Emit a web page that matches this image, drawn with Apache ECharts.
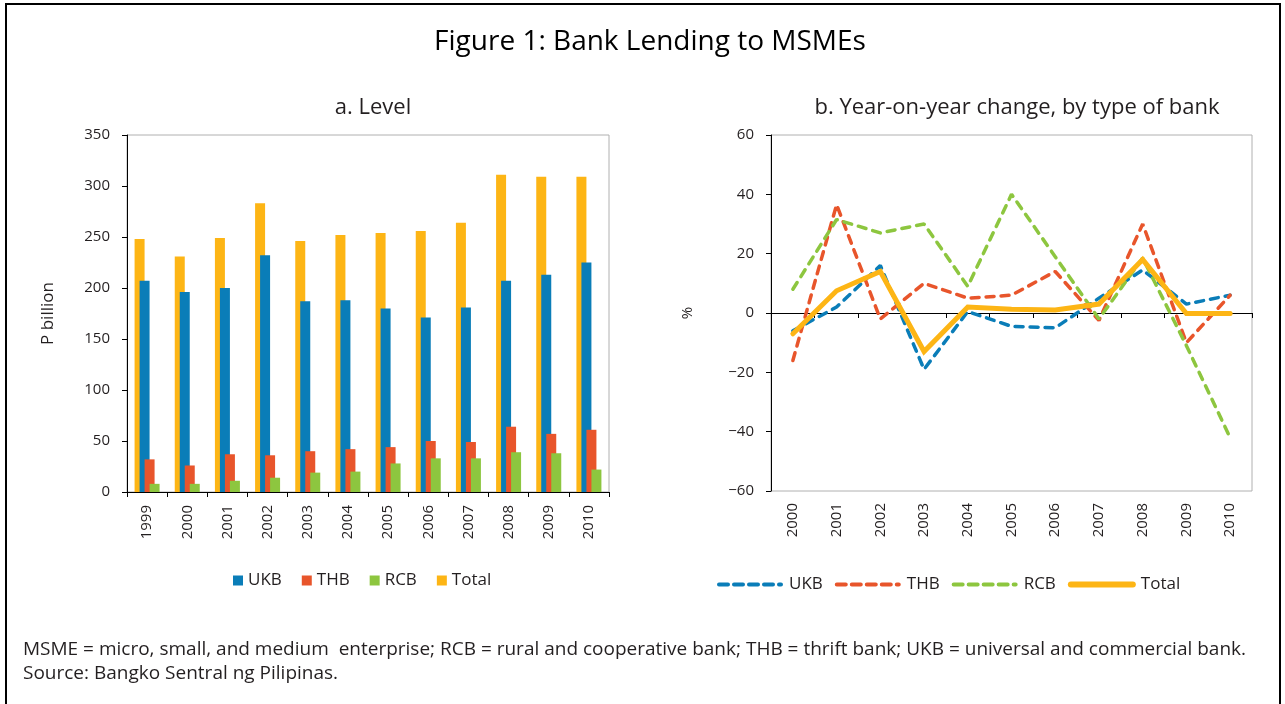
<!DOCTYPE html>
<html>
<head>
<meta charset="utf-8">
<script src="https://cdn.jsdelivr.net/npm/echarts@6/dist/echarts.min.js"></script>
<style>
html,body{margin:0;padding:0;background:#fff;}
#c{width:1285px;height:704px;}
</style>
</head>
<body>
<div id="c"></div>
<script>
// ---- data ----
const yearsLevel = ['1999','2000','2001','2002','2003','2004','2005','2006','2007','2008','2009','2010'];
const ukbLevel   = [207, 196, 200, 232, 187, 188, 180, 171, 181, 207, 213, 225];
const thbLevel   = [32, 26, 37, 36, 40, 42, 44, 50, 49, 64, 57, 61];
const rcbLevel   = [8, 8, 11, 14, 19, 20, 28, 33, 33, 39, 38, 22];
const totalLevel = [248, 231, 249, 283, 246, 252, 254, 256, 264, 311, 309, 309];

const yearsChg = ['2000','2001','2002','2003','2004','2005','2006','2007','2008','2009','2010'];
const ukbChg   = [-6, 2, 16, -19, 0.5, -4.5, -5, 5, 14.5, 3, 6];
const thbChg   = [-16, 36.5, -2, 10, 5, 6, 14, -2.5, 30, -10, 6];
const rcbChg   = [8, 31.5, 27, 30, 9, 40, 19, -2, 18.5, -11, -42];
const totalChg = [-7, 7.5, 14, -13, 2, 1.3, 1, 3, 18, -0.2, -0.2];

const levelTicks = [0, 350, 50];
const chgTicks = [-60, 60, 20];

const seriesNames = ['UKB', 'THB', 'RCB', 'Total'];
const footer1 = 'MSME = micro, small, and medium  enterprise; RCB = rural and cooperative bank; THB = thrift bank; UKB = universal and commercial bank.';
const footer2 = 'Source: Bangko Sentral ng Pilipinas.';

// ---- styles ----
const FONT = '"Open Sans"';
const TXT = '#231f20';
const C = {UKB:'#0a7db8', THB:'#e8552b', RCB:'#8dc63f', Total:'#fdb515'};

const chart = echarts.init(document.getElementById('c'));

const axisLbl = {color: TXT, fontFamily: FONT, fontSize: 15};

const option = {
  animation: false,
  backgroundColor: '#fff',
  title: [
    {text: 'Figure 1: Bank Lending to MSMEs', left: 645, top: 23, textAlign: 'center',
     textStyle: {fontFamily: FONT, fontSize: 28, fontWeight: 'normal', color: '#000'}},
    {text: 'a. Level', left: 368, top: 92, textAlign: 'center',
     textStyle: {fontFamily: FONT, fontSize: 22, fontWeight: 'normal', color: TXT}},
    {text: 'b. Year-on-year change, by type of bank', left: 1012, top: 92, textAlign: 'center',
     textStyle: {fontFamily: FONT, fontSize: 22, fontWeight: 'normal', color: TXT}}
  ],
  graphic: [
    {type: 'rect', shape: {x: 6, y: 4, width: 1274, height: 740}, style: {fill: 'none', stroke: '#000', lineWidth: 2}, silent: true},
    {type: 'text', left: 23, top: 640, style: {text: footer1, font: '19px ' + FONT, fill: TXT}},
    {type: 'text', left: 23, top: 664, style: {text: footer2, font: '19px ' + FONT, fill: TXT}}
  ],
  legend: [
    {data: seriesNames, left: 228, top: 567, icon: 'rect', itemWidth: 10, itemHeight: 10, itemGap: 20,
     textStyle: {fontFamily: FONT, fontSize: 17, color: TXT}},
    {data: [
       {name: 'b:UKB', lineStyle: {width: 4, type: [9, 6]}},
       {name: 'b:THB', lineStyle: {width: 4, type: [9, 6]}},
       {name: 'b:RCB', lineStyle: {width: 4, type: [9, 6]}},
       {name: 'b:Total', lineStyle: {width: 6}}
     ], left: 712, top: 571, itemWidth: 62, itemHeight: 14, itemGap: 12,
     formatter: n => n.slice(2), itemStyle: {opacity: 0},
     textStyle: {fontFamily: FONT, fontSize: 17, color: TXT, padding: [0, 0, 0, 3]}}
  ],
  grid: [
    {left: 127, top: 135, width: 482, height: 357, show: true, borderColor: '#b0b0b0', borderWidth: 1, backgroundColor: 'transparent'},
    {left: 771, top: 135, width: 481, height: 356, show: true, borderColor: '#b0b0b0', borderWidth: 1, backgroundColor: 'transparent'}
  ],
  xAxis: [
    {gridIndex: 0, type: 'category', data: yearsLevel, boundaryGap: true,
     axisLine: {lineStyle: {color: '#000', width: 1}},
     axisTick: {show: true, length: 5, lineStyle: {color: '#000'}},
     axisLabel: Object.assign({rotate: 90, margin: 13}, axisLbl)},
    {gridIndex: 1, type: 'category', data: yearsChg, boundaryGap: true, position: 'bottom',
     axisLine: {show: false, onZero: false},
     axisTick: {show: false},
     axisLabel: Object.assign({rotate: 90, margin: 12}, axisLbl)},
    {gridIndex: 1, type: 'category', data: yearsChg, boundaryGap: true, position: 'bottom',
     axisLine: {show: true, onZero: true, lineStyle: {color: '#000', width: 1}},
     axisTick: {show: true, length: 5, lineStyle: {color: '#000'}},
     axisLabel: {show: false}}
  ],
  yAxis: [
    {gridIndex: 0, type: 'value', min: levelTicks[0], max: levelTicks[1], interval: levelTicks[2],
     name: 'P billion', nameLocation: 'middle', nameGap: 70, nameRotate: 90,
     nameTextStyle: {fontFamily: FONT, fontSize: 17, color: TXT},
     axisLine: {show: true, lineStyle: {color: '#000', width: 1}},
     axisTick: {show: true, length: 5, lineStyle: {color: '#000'}},
     splitLine: {show: false},
     axisLabel: Object.assign({margin: 17}, axisLbl)},
    {gridIndex: 1, type: 'value', min: chgTicks[0], max: chgTicks[1], interval: chgTicks[2],
     name: '%', nameLocation: 'middle', nameGap: 76, nameRotate: 90,
     nameTextStyle: {fontFamily: FONT, fontSize: 15, color: TXT},
     axisLine: {show: true, onZero: false, lineStyle: {color: '#000', width: 1}},
     axisTick: {show: true, length: 5, lineStyle: {color: '#000'}},
     splitLine: {show: false},
     axisLabel: Object.assign({margin: 17, formatter: v => String(v).replace('-', '\u2212')}, axisLbl)}
  ],
  series: [
    {name: 'Total', type: 'bar', xAxisIndex: 0, yAxisIndex: 0, data: totalLevel, barWidth: 10, barGap: '-50%', itemStyle: {color: C.Total}},
    {name: 'UKB', type: 'bar', xAxisIndex: 0, yAxisIndex: 0, data: ukbLevel, barWidth: 10, barGap: '-50%', itemStyle: {color: C.UKB}},
    {name: 'THB', type: 'bar', xAxisIndex: 0, yAxisIndex: 0, data: thbLevel, barWidth: 10, barGap: '-50%', itemStyle: {color: C.THB}},
    {name: 'RCB', type: 'bar', xAxisIndex: 0, yAxisIndex: 0, data: rcbLevel, barWidth: 10, barGap: '-50%', itemStyle: {color: C.RCB}},
    {name: 'b:UKB', type: 'line', xAxisIndex: 1, yAxisIndex: 1, data: ukbChg, symbol: 'none',
     lineStyle: {color: C.UKB, width: 3.5, type: [8, 7], cap: 'round'}, itemStyle: {color: C.UKB}},
    {name: 'b:THB', type: 'line', xAxisIndex: 1, yAxisIndex: 1, data: thbChg, symbol: 'none',
     lineStyle: {color: C.THB, width: 3.5, type: [8, 7], cap: 'round'}, itemStyle: {color: C.THB}},
    {name: 'b:RCB', type: 'line', xAxisIndex: 1, yAxisIndex: 1, data: rcbChg, symbol: 'none',
     lineStyle: {color: C.RCB, width: 3.5, type: [8, 7], cap: 'round'}, itemStyle: {color: C.RCB}},
    {name: 'b:Total', type: 'line', xAxisIndex: 1, yAxisIndex: 1, data: totalChg, symbol: 'none',
     lineStyle: {color: C.Total, width: 5, cap: 'round', join: 'miter'}, itemStyle: {color: C.Total}}
  ]
};
chart.setOption(option);
</script>
</body>
</html>
